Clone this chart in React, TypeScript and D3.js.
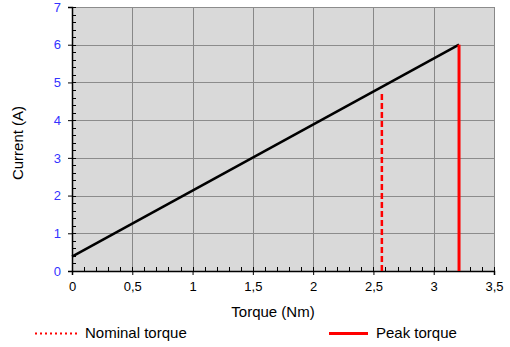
import { useRef, useEffect } from 'react';
import * as d3 from 'd3';

const torque = [0, 3.21];
const current = [0.38, 6.0];
const nominalTorque = [2.57, 2.57];
const nominalCurrent = [0, 4.7];
const peakTorque = [3.21, 3.21];
const peakCurrent = [0, 6.0];
const xTicks = [0, 0.5, 1, 1.5, 2, 2.5, 3, 3.5];
const yTicks = [0, 1, 2, 3, 4, 5, 6, 7];

export default function App() {
  const svgRef = useRef<SVGSVGElement>(null);

  useEffect(() => {
    if (!svgRef.current) return;
    const svg = d3.select(svgRef.current);
    svg.selectAll('*').remove();

    const width = 510;
    const height = 347;
    const margin = { top: 7, right: 16, bottom: 76, left: 72 };
    const innerW = width - margin.left - margin.right;
    const innerH = height - margin.top - margin.bottom;
    const font = 'Liberation Sans, Arial, sans-serif';

    const x = d3.scaleLinear().domain([0, 3.5]).range([0, innerW]);
    const y = d3.scaleLinear().domain([0, 7]).range([innerH, 0]);

    const g = svg.append('g').attr('transform', `translate(${margin.left},${margin.top})`);

    // Plot background
    g.append('rect')
      .attr('width', innerW).attr('height', innerH)
      .attr('fill', '#d9d9d9');

    // Grid
    g.append('g')
      .selectAll('line')
      .data(xTicks.slice(1))
      .join('line')
      .attr('x1', (d) => Math.round(x(d)) + 0.5).attr('x2', (d) => Math.round(x(d)) + 0.5)
      .attr('y1', 0).attr('y2', innerH)
      .attr('stroke', '#888').attr('stroke-width', 1);
    g.append('g')
      .selectAll('line')
      .data(yTicks.slice(1))
      .join('line')
      .attr('x1', 0).attr('x2', innerW)
      .attr('y1', (d) => Math.round(y(d)) + 0.5).attr('y2', (d) => Math.round(y(d)) + 0.5)
      .attr('stroke', '#8c8c8c').attr('stroke-width', 1);

    // Minor ticks (inside the plot)
    g.append('g')
      .selectAll('line')
      .data(y.ticks(35))
      .join('line')
      .attr('x1', 0).attr('x2', 4)
      .attr('y1', (d) => Math.round(y(d)) + 0.5).attr('y2', (d) => Math.round(y(d)) + 0.5)
      .attr('stroke', '#000').attr('stroke-width', 1);
    g.append('g')
      .selectAll('line')
      .data(x.ticks(35))
      .join('line')
      .attr('x1', (d) => Math.round(x(d)) + 0.5).attr('x2', (d) => Math.round(x(d)) + 0.5)
      .attr('y1', innerH - 4).attr('y2', innerH)
      .attr('stroke', '#000').attr('stroke-width', 1);

    // Axes
    g.append('g')
      .attr('transform', `translate(0,${innerH})`)
      .call(d3.axisBottom(x).tickValues(xTicks).tickSize(4).tickPadding(7)
        .tickFormat((d) => String(d).replace('.', ',')))
      .call((a) => {
        a.select('.domain').attr('stroke', '#000').attr('stroke-width', 1.5);
        a.selectAll('line').attr('stroke', '#000');
        a.selectAll('text').attr('fill', '#000').style('font-size', '13px').style('font-family', font);
      });
    g.append('g')
      .call(d3.axisLeft(y).tickValues(yTicks).tickSize(4).tickPadding(7).tickFormat(d3.format('d')))
      .call((a) => {
        a.select('.domain').attr('stroke', '#000').attr('stroke-width', 1.5);
        a.selectAll('line').attr('stroke', '#000');
        a.selectAll('text').attr('fill', '#3333ff').style('font-size', '13px').style('font-family', font);
      });

    const path = (xs: number[], ys: number[]) =>
      d3.line<number>().x((d) => x(d)).y((_, i) => y(ys[i]))(xs);

    // Current vs torque
    g.append('path')
      .attr('d', path(torque, current))
      .attr('fill', 'none').attr('stroke', '#000').attr('stroke-width', 2.5);

    // Nominal torque (dashed)
    g.append('path')
      .attr('d', path(nominalTorque, nominalCurrent))
      .attr('fill', 'none').attr('stroke', '#ff0000').attr('stroke-width', 2.5)
      .attr('stroke-dasharray', '6,3');

    // Peak torque
    g.append('path')
      .attr('d', path(peakTorque, peakCurrent))
      .attr('fill', 'none').attr('stroke', '#ff0000').attr('stroke-width', 3);

    // Axis titles
    svg.append('text')
      .attr('x', 273).attr('y', 317)
      .attr('text-anchor', 'middle')
      .attr('fill', '#000').style('font-size', '15px').style('font-family', font)
      .text('Torque (Nm)');
    svg.append('text')
      .attr('transform', `translate(23, 143) rotate(-90)`)
      .attr('text-anchor', 'middle')
      .attr('fill', '#000').style('font-size', '15px').style('font-family', font)
      .text('Current (A)');

    // Legend
    svg.append('line')
      .attr('x1', 35).attr('x2', 80).attr('y1', 333.5).attr('y2', 333.5)
      .attr('stroke', '#ff0000').attr('stroke-width', 2).attr('stroke-dasharray', '2,3');
    svg.append('text')
      .attr('x', 85).attr('y', 338)
      .attr('fill', '#000').style('font-size', '15px').style('font-family', font)
      .text('Nominal torque');
    svg.append('line')
      .attr('x1', 329).attr('x2', 368).attr('y1', 333.5).attr('y2', 333.5)
      .attr('stroke', '#ff0000').attr('stroke-width', 3);
    svg.append('text')
      .attr('x', 376).attr('y', 338)
      .attr('fill', '#000').style('font-size', '15px').style('font-family', font)
      .text('Peak torque');
  }, []);

  return (
    <svg
      ref={svgRef}
      width={510}
      height={347}
      style={{ position: 'absolute', left: 0, top: 0, background: '#fff' }}
    />
  );
}
